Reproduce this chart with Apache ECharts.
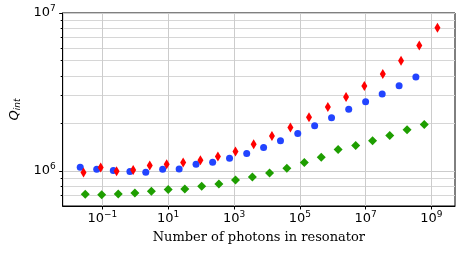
<!DOCTYPE html>
<html><head><meta charset="utf-8">
<script src="https://cdn.jsdelivr.net/npm/echarts@6/dist/echarts.min.js"></script>
<style>html,body{margin:0;padding:0;background:#fff}#c{width:467px;height:254px}</style>
</head><body><div id="c"></div>
<script>
// photons in resonator (x) and internal Q (y)
var blueX = [0.0212, 0.0673, 0.215, 0.686, 2.08, 6.79, 21.5, 70.2, 224, 731, 2432, 7925, 25830, 86500, 2.82e5, 9.2e5, 3.06e6, 9.98e6, 3.18e7, 1.04e8, 3.36e8];
var blueQ = [1.056e6, 1.025e6, 1.006e6, 0.991e6, 0.981e6, 1.025e6, 1.030e6, 1.103e6, 1.136e6, 1.204e6, 1.290e6, 1.408e6, 1.551e6, 1.728e6, 1.931e6, 2.171e6, 2.455e6, 2.744e6, 3.07e6, 3.467e6, 3.94e6];
var redX = [0.0267, 0.0889, 0.270, 0.863, 2.75, 8.98, 28.5, 95.3, 324, 1109, 3954, 14200, 51700, 1.90e5, 7.11e5, 2.54e6, 9.12e6, 3.32e7, 1.19e8, 4.26e8, 1.52e9];
var redQ = [0.977e6, 1.051e6, 0.996e6, 1.015e6, 1.082e6, 1.103e6, 1.131e6, 1.170e6, 1.235e6, 1.328e6, 1.478e6, 1.662e6, 1.887e6, 2.184e6, 2.539e6, 2.939e6, 3.452e6, 4.116e6, 4.977e6, 6.225e6, 8.065e6];
var greenX = [0.0301, 0.0953, 0.304, 0.971, 3.08, 10.0, 32.0, 104, 347, 1109, 3614, 12030, 40300, 1.37e5, 4.47e5, 1.46e6, 4.98e6, 1.62e7, 5.40e7, 1.81e8, 6.03e8];
var greenQ = [0.711e6, 0.708e6, 0.714e6, 0.725e6, 0.743e6, 0.762e6, 0.769e6, 0.799e6, 0.827e6, 0.877e6, 0.916e6, 0.971e6, 1.040e6, 1.131e6, 1.222e6, 1.368e6, 1.450e6, 1.551e6, 1.678e6, 1.822e6, 1.971e6];
var xTickExps = [-1, 1, 3, 5, 7, 9];
var yTickExps = [6, 7];
var yMinorTicks = [7e5, 8e5, 9e5, 2e6, 3e6, 4e6, 5e6, 6e6, 7e6, 8e6, 9e6];
var xRange = [0.00621, 5.19e9];
var yRange = [6.0e5, 1e7];
var xTitle = 'Number of photons in resonator';

var L = Math.log10;
function pts(xs, ys){ return xs.map(function(x,i){ return [L(x), L(ys[i])]; }); }
function expLabel(v){ var e = Math.round(v); return '{b|10}{s|' + (e < 0 ? '\u2212' + (-e) : e) + '}'; }
var rich = {
  b: {fontFamily:'DejaVu Sans', fontSize:13, lineHeight:18, color:'#000'},
  s: {fontFamily:'DejaVu Sans', fontSize:9, lineHeight:9, verticalAlign:'top', color:'#000'}
};
var chart = echarts.init(document.getElementById('c'), null, {renderer:'canvas'});
chart.setOption({
  animation:false,
  backgroundColor:'#fff',
  grid:{left:60, right:12, top:13, bottom:48, show:true, borderColor:'#000', borderWidth:1, containLabel:false},
  xAxis:[{
    type:'value', min:L(xRange[0]), max:L(xRange[1]),
    axisLine:{show:true, onZero:false, lineStyle:{color:'#000', width:1}},
    axisTick:{show:true, length:3.5, lineStyle:{color:'#000'}, customValues:xTickExps},
    axisLabel:{show:true, margin:4, customValues:xTickExps, formatter:expLabel, rich:rich},
    splitLine:{show:true, lineStyle:{color:'#cccccc', width:1}},
    name:xTitle, nameLocation:'middle', nameGap:25,
    nameTextStyle:{fontFamily:'DejaVu Serif', fontSize:13, color:'#000'}
  }],
  yAxis:[{
    type:'value', min:L(yRange[0]), max:L(yRange[1]),
    axisLine:{show:true, onZero:false, lineStyle:{color:'#000', width:1}},
    axisTick:{show:true, length:3.5, lineStyle:{color:'#000'}, customValues:yTickExps},
    axisLabel:{show:true, margin:7, customValues:yTickExps, formatter:expLabel, rich:rich},
    splitLine:{show:true, lineStyle:{color:'#cccccc', width:1}},
    name:'{q|Q}{i|int}', nameLocation:'middle', nameRotate:90, nameGap:38,
    nameTextStyle:{rich:{
      q:{fontFamily:'DejaVu Sans', fontStyle:'italic', fontSize:13, lineHeight:16, color:'#000'},
      i:{fontFamily:'DejaVu Sans', fontStyle:'italic', fontSize:9, lineHeight:10, verticalAlign:'bottom', color:'#000'}
    }}
  },{
    type:'value', min:L(yRange[0]), max:L(yRange[1]), position:'left',
    axisLine:{show:false, onZero:false},
    axisTick:{show:true, length:2, lineStyle:{color:'#000'}, customValues:yMinorTicks.map(L)},
    axisLabel:{show:false},
    splitLine:{show:true, lineStyle:{color:'#d6d6d6', width:1}}
  }],
  series:[
    {type:'scatter', data:pts(greenX, greenQ), symbol:'diamond', symbolSize:9, itemStyle:{color:'#1e9e00', opacity:1}, z:3},
    {type:'scatter', data:pts(blueX, blueQ), symbol:'circle', symbolSize:7, itemStyle:{color:'#2244ff', opacity:1}, z:3},
    {type:'scatter', data:pts(redX, redQ), symbol:'diamond', symbolSize:[6,10], itemStyle:{color:'#ff0000', opacity:1}, z:4}
  ]
});
</script></body></html>
